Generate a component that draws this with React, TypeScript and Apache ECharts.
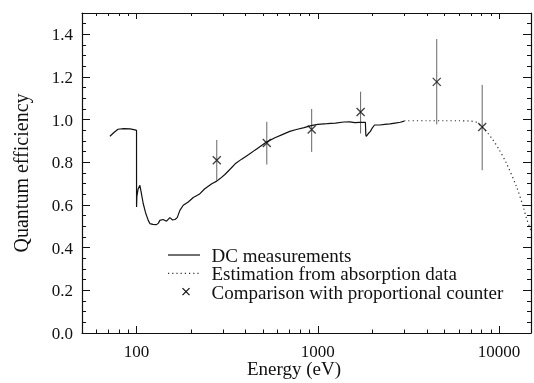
import React, { useEffect, useRef } from "react";
import * as echarts from "echarts";

// DC measurements (solid curve)
const dcEnergy = [
  71.3, 75, 79, 85, 92, 98, 99.95, 100, 100.4, 102, 104.3, 106, 108.8, 112, 116, 118.4, 123,
  128.9, 132, 134.4, 140, 146.3, 152.7, 158, 163, 167.6, 173.4, 180.9, 192.8, 205.5, 221.7,
  237, 260, 277, 290, 307, 330, 350, 380, 416, 460, 523, 580, 641, 700, 762, 840, 917, 1000,
  1125, 1250, 1393, 1500, 1600, 1700, 1830, 1840, 1850, 1900, 1950, 2000, 2055, 2200, 2340,
  2500, 2670, 2850, 3000,
];
const dcEfficiency = [
  0.922, 0.94, 0.955, 0.958, 0.957, 0.952, 0.95, 0.591, 0.64, 0.675, 0.692, 0.66, 0.607, 0.565,
  0.528, 0.513, 0.509, 0.508, 0.515, 0.528, 0.532, 0.524, 0.541, 0.53, 0.532, 0.541, 0.575,
  0.599, 0.614, 0.635, 0.65, 0.675, 0.7, 0.712, 0.725, 0.743, 0.77, 0.793, 0.815, 0.837, 0.863,
  0.896, 0.915, 0.931, 0.945, 0.954, 0.963, 0.972, 0.978, 0.981, 0.984, 0.989, 0.99, 0.986,
  0.987, 0.988, 0.93, 0.922, 0.935, 0.945, 0.962, 0.975, 0.975, 0.978, 0.98, 0.984, 0.988, 0.993,
];

// Estimation from absorption data (dotted curve)
const estEnergy = [3000, 4000, 5000, 6000, 7000, 7500, 8070, 8700, 9290, 10000, 11000, 12500, 13600, 14200, 15000];
const estEfficiency = [0.995, 0.995, 0.995, 0.995, 0.993, 0.988, 0.966, 0.935, 0.903, 0.86, 0.794, 0.684, 0.591, 0.535, 0.48];

// Comparison with proportional counter
const pcEnergy = [277, 523, 925, 1722, 4530, 8070];
const pcEfficiency = [0.81, 0.891, 0.954, 1.036, 1.177, 0.966];
const pcLow = [0.715, 0.79, 0.849, 0.935, 0.978, 0.763];
const pcHigh = [0.905, 0.99, 1.05, 1.131, 1.378, 1.163];

// Tick labels
const xTickValues = [100, 1000, 10000];
const xTickLabels = ["100", "1000", "10000"];
const yTickValues = [0, 0.2, 0.4, 0.6, 0.8, 1.0, 1.2, 1.4];
const yTickLabels = ["0.0", "0.2", "0.4", "0.6", "0.8", "1.0", "1.2", "1.4"];

const seriesNames = ["DC measurements", "Estimation from absorption data", "Comparison with proportional counter"];
const xName = "Energy (eV)";
const yName = "Quantum efficiency";

const INK = "#111";
const font = (size: number) => `${size}px 'Liberation Serif', 'Times New Roman', serif`;

export default function App() {
  const ref = useRef<HTMLDivElement>(null);
  useEffect(() => {
    if (!ref.current) return;
    const chart = echarts.init(ref.current, undefined, { renderer: "svg" });

    const baseX = {
      type: "log" as const,
      logBase: 10,
      min: 50,
      max: 15000,
      axisLine: { show: true, onZero: false, lineStyle: { color: INK, width: 1.2 } },
      axisTick: { show: true, inside: true, length: 7, lineStyle: { color: INK, width: 1 } },
      minorTick: { show: true, splitNumber: 9, length: 3.5, lineStyle: { color: INK, width: 1 } },
      axisLabel: { show: false },
      splitLine: { show: false },
      minorSplitLine: { show: false },
    };
    const baseY = {
      type: "value" as const,
      min: 0,
      max: 1.5,
      interval: 0.2,
      axisLine: { show: true, onZero: false, lineStyle: { color: INK, width: 1.2 } },
      axisTick: { show: true, inside: true, length: 8, lineStyle: { color: INK, width: 1 } },
      minorTick: { show: true, splitNumber: 4, length: 4, lineStyle: { color: INK, width: 1 } },
      axisLabel: { show: false },
      splitLine: { show: false },
      minorSplitLine: { show: false },
    };

    chart.setOption({
      animation: false,
      grid: { left: 82, right: 3, top: 13, bottom: 50, containLabel: false },
      xAxis: [
        { ...baseX, position: "bottom" },
        {
          ...baseX,
          position: "top",
          axisTick: { ...baseX.axisTick, length: 6 },
          minorTick: { ...baseX.minorTick, length: 3 },
        },
      ],
      yAxis: [
        { ...baseY, position: "left" },
        { ...baseY, position: "right" },
      ],
      series: [
        {
          name: seriesNames[0],
          type: "line",
          symbol: "none",
          data: dcEnergy.map((e, i) => [e, dcEfficiency[i]]),
          lineStyle: { color: INK, width: 1.2 },
          itemStyle: { color: INK },
          z: 3,
        },
        {
          name: seriesNames[1],
          type: "line",
          symbol: "none",
          smooth: 0.3,
          data: estEnergy.map((e, i) => [e, estEfficiency[i]]),
          lineStyle: { color: "#333", width: 1.2, type: [1.2, 3] },
          itemStyle: { color: "#333" },
          z: 3,
        },
        {
          name: "errorbars",
          type: "custom",
          data: pcEnergy.map((e, i) => [e, pcLow[i], pcHigh[i]]),
          encode: { x: 0, y: [1, 2] },
          renderItem: (_params: any, api: any) => {
            const lo = api.coord([api.value(0), api.value(1)]);
            const hi = api.coord([api.value(0), api.value(2)]);
            return {
              type: "line",
              shape: { x1: lo[0], y1: lo[1], x2: hi[0], y2: hi[1] },
              style: { stroke: "#666", lineWidth: 1 },
            };
          },
          z: 2,
        },
        {
          name: seriesNames[2],
          type: "scatter",
          symbol: "path://M0,0L10,10M10,0L0,10",
          symbolSize: 8,
          data: pcEnergy.map((e, i) => [e, pcEfficiency[i]]),
          itemStyle: { color: "none", borderColor: INK, borderWidth: 1.3 },
          z: 4,
        },
      ],
    });

    // Texts placed through the axes' own scales
    const x0 = chart.convertToPixel({ xAxisIndex: 0 }, 50) as number;
    const x1 = chart.convertToPixel({ xAxisIndex: 0 }, 15000) as number;
    const y0 = chart.convertToPixel({ yAxisIndex: 0 }, 0) as number;
    const y1 = chart.convertToPixel({ yAxisIndex: 0 }, 1.5) as number;

    const txt = (text: string, x: number, y: number, size: number, align: string, lh: number, extra: any = {}) => ({
      type: "text",
      x,
      y,
      ...extra,
      style: { text, font: font(size), fill: INK, align, verticalAlign: "middle", lineHeight: lh },
    });

    const g: any[] = [];
    xTickValues.forEach((v, i) => {
      const px = chart.convertToPixel({ xAxisIndex: 0 }, v) as number;
      g.push(txt(xTickLabels[i], px, y0 + 18.5, 17, "center", 14));
    });
    yTickValues.forEach((v, i) => {
      const py = chart.convertToPixel({ yAxisIndex: 0 }, v) as number;
      g.push(txt(yTickLabels[i], x0 - 9, py + 0.5, 17, "right", 14));
    });
    g.push(txt(xName, (x0 + x1) / 2 - 12.5, y0 + 35, 19, "center", 17));
    g.push(txt(yName, x0 - 61, (y0 + y1) / 2, 20, "center", 18, { rotation: Math.PI / 2 }));

    // Legend
    const lx = 168;
    const lw = 32;
    const rows = [255, 273.3, 291.7];
    const tx = 211.5;
    g.push({ type: "line", shape: { x1: lx, y1: rows[0], x2: lx + lw, y2: rows[0] }, style: { stroke: INK, lineWidth: 1.2 } });
    g.push({ type: "line", shape: { x1: lx, y1: rows[1], x2: lx + lw, y2: rows[1] }, style: { stroke: "#333", lineWidth: 1.2, lineDash: [1.2, 3] } });
    const cx = lx + lw / 2 + 2;
    const cy = rows[2];
    const r = 3.5;
    g.push({ type: "line", shape: { x1: cx - r, y1: cy - r, x2: cx + r, y2: cy + r }, style: { stroke: INK, lineWidth: 1.2 } });
    g.push({ type: "line", shape: { x1: cx - r, y1: cy + r, x2: cx + r, y2: cy - r }, style: { stroke: INK, lineWidth: 1.2 } });
    seriesNames.forEach((n, i) => g.push(txt(n, tx, rows[i] + 0.5, 19, "left", 17)));

    chart.setOption({ graphic: g });

    return () => chart.dispose();
  }, []);
  return <div ref={ref} style={{ position: "fixed", left: 0, top: 0, width: 534, height: 383 }} />;
}
